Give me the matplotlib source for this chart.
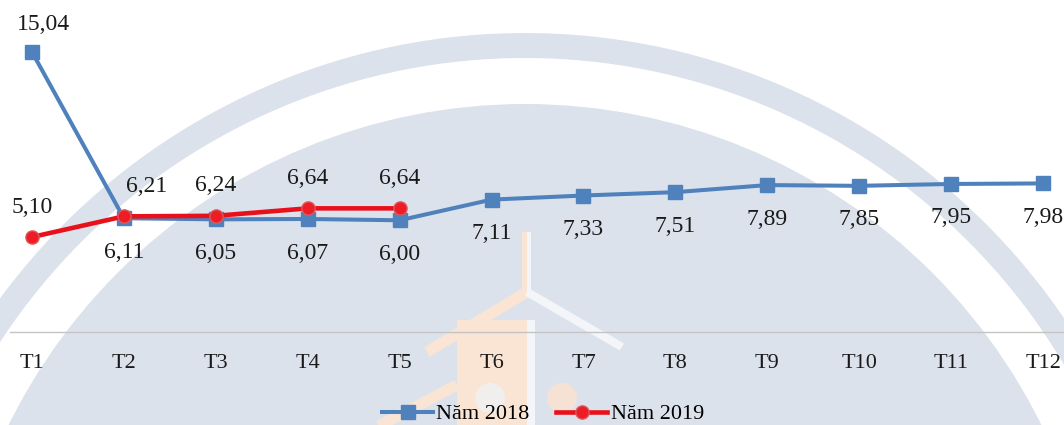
import matplotlib
matplotlib.use('Agg')
import matplotlib.pyplot as plt
from matplotlib.patches import Circle, Annulus, Rectangle

plt.rcParams['font.family'] = ['Liberation Serif', 'DejaVu Serif']

# monthly values, Vietnamese month labels
months = ['T1', 'T2', 'T3', 'T4', 'T5', 'T6', 'T7', 'T8', 'T9', 'T10', 'T11', 'T12']
y2018 = [15.04, 6.11, 6.05, 6.07, 6.00, 7.11, 7.33, 7.51, 7.89, 7.85, 7.95, 7.98]
y2019 = [5.10, 6.21, 6.24, 6.64, 6.64]

BLUE = '#4f81bd'
RED = '#e8101a'
WM_GRAY = '#dce2ec'
WM_ORANGE = '#fae5d4'

fig = plt.figure(figsize=(10.64, 4.25), dpi=100)
fig.patch.set_facecolor('white')

# background watermark, drawn in pixel units
bg = fig.add_axes([0, 0, 1, 1])
bg.set_xlim(0, 1064)
bg.set_ylim(425, 0)
bg.axis('off')
bg.add_patch(Annulus((525, 685), 652, 25, color=WM_GRAY, lw=0))
bg.add_patch(Circle((525, 680), 576, color=WM_GRAY, lw=0))
bg.add_patch(Rectangle((457, 320), 70, 110, color=WM_ORANGE, lw=0))
bg.add_patch(Rectangle((527, 320), 8, 110, color='#f3f5f8', lw=0))
bg.plot([527, 427], [292, 352], color=WM_ORANGE, lw=8, solid_capstyle='butt')
bg.plot([375, 457], [428, 385], color=WM_ORANGE, lw=8, solid_capstyle='butt')
bg.plot([527, 622], [292, 347], color='#f3f5f8', lw=6, solid_capstyle='butt')
bg.add_patch(Rectangle((522, 232), 5, 62, color=WM_ORANGE, lw=0))
bg.add_patch(Rectangle((527, 232), 4, 62, color='#f3f5f8', lw=0))
bg.add_patch(Circle((490, 398), 15, color='#f1efee', lw=0))
bg.add_patch(Circle((562, 398), 15, color='#f6e2d4', lw=0))

ax = fig.add_axes([10 / 1064, 93 / 425, 1054 / 1064, 332 / 425])
ax.set_facecolor('none')

x = list(range(len(months)))
x19 = x[:len(y2019)]

ax.plot(x, y2018, color=BLUE, lw=2.9, marker='s', markersize=10,
        markerfacecolor='#4f81bd', markeredgecolor='#4f81bd', label='Năm 2018', zorder=3)
ax.plot(x19, y2019, color=RED, lw=3.3, marker='o', markersize=9.5,
        markerfacecolor='#ee1c25', markeredgecolor='#e0565a', markeredgewidth=1,
        label='Năm 2019', zorder=4)

# data labels with comma decimal separator
for i, v in enumerate(y2018):
    dx, dy = (8.5, 19.5) if i == 0 else (0, -24.5)
    ax.annotate('{:.2f}'.format(v).replace('.', ','), (i, v), xytext=(dx, dy),
                textcoords='offset points', ha='center', va='center',
                fontsize=17, color='#1a1a1a')
for i, v in enumerate(y2019):
    dx = 16.5 if i == 1 else 0
    ax.annotate('{:.2f}'.format(v).replace('.', ','), (i, v), xytext=(dx, 21.5),
                textcoords='offset points', ha='center', va='center',
                fontsize=17, color='#1a1a1a')

ax.set_xlim(-0.239, 11.228)
ax.set_ylim(0, 17.83)
ax.set_xticks(x)
ax.set_xticklabels(months, fontsize=16, color='#1a1a1a')
ax.tick_params(axis='x', length=0, pad=16)
ax.set_yticks([])
for s in ['top', 'left', 'right']:
    ax.spines[s].set_visible(False)
ax.spines['bottom'].set_color('#c4c4c4')
ax.spines['bottom'].set_linewidth(1)

fig.legend(loc='center', bbox_to_anchor=(543 / 1064, 1 - 414 / 425), ncol=2,
           frameon=False, fontsize=16, handlelength=2.3, handletextpad=0.15,
           columnspacing=1.2, borderaxespad=0)

fig.savefig('out.png', dpi=100)
